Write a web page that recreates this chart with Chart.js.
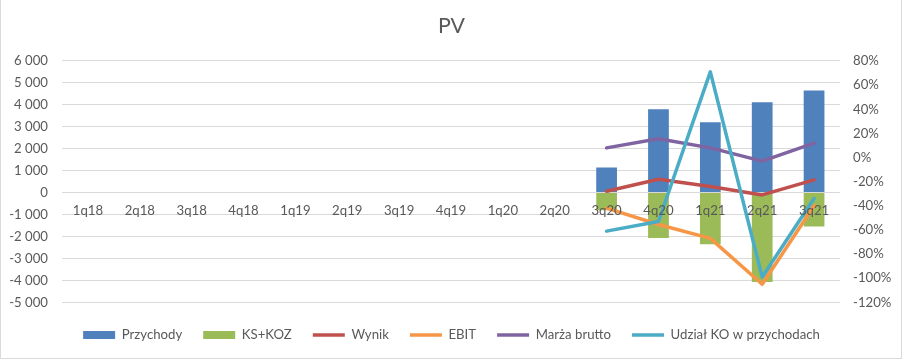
<!DOCTYPE html>
<html>
<head>
<meta charset="utf-8">
<script src="https://cdn.jsdelivr.net/npm/chart.js@4/dist/chart.umd.min.js"></script>
<style>
  html, body { margin: 0; padding: 0; background: #ffffff; }
  #wrap { width: 903px; height: 360px; position: relative; }
</style>
</head>
<body>
<div id="wrap"><canvas id="c" width="903" height="360"></canvas></div>
<script>
const categories = ['1q18','2q18','3q18','4q18','1q19','2q19','3q19','4q19','1q20','2q20','3q20','4q20','1q21','2q21','3q21'];
const przychody = [null,null,null,null,null,null,null,null,null,null,1150,3800,3210,4120,4660];
const ksKoz      = [null,null,null,null,null,null,null,null,null,null,-800,-2070,-2350,-4080,-1540];
const wynik      = [null,null,null,null,null,null,null,null,null,null,-28,-18,-24,-31,-18.5];
const ebit       = [null,null,null,null,null,null,null,null,null,null,-42,-55.5,-67,-105,-40];
const marza      = [null,null,null,null,null,null,null,null,null,null,8,15.5,8,-3,12];
const udzialKO   = [null,null,null,null,null,null,null,null,null,null,-61,-53,71,-99,-34];
const leftTicks  = { min: -5000, max: 6000, step: 1000 };
const rightTicks = { min: -120, max: 80, step: 20 };

const FONT = 'Lato, "Liberation Sans", sans-serif';
const TXT = '#595959';
const FS = 13.2;

function fmtThousands(v) {
  const s = Math.abs(v).toFixed(0).replace(/\B(?=(\d{3})+(?!\d))/g, ' ');
  return (v < 0 ? '-' : '') + s;
}

const framePlugin = {
  id: 'frame',
  afterLayout(chart) {
    // nudge the legend a few pixels lower, below the plot area
    if (chart.legend) { chart.legend.top += 5; chart.legend.bottom += 5; }
  },
  afterDraw(chart) {
    const ctx = chart.ctx;
    ctx.save();
    ctx.strokeStyle = '#d9d9d9';
    ctx.lineWidth = 1;
    ctx.beginPath();
    ctx.moveTo(0.5, 0); ctx.lineTo(0.5, 358.5);
    ctx.lineTo(901.5, 358.5); ctx.lineTo(901.5, 0);
    ctx.stroke();
    ctx.restore();
  }
};

const lineDs = (label, data, color, order) => ({
  type: 'line', label, data, yAxisID: 'y1', order,
  borderColor: color, backgroundColor: color, borderWidth: 3.5,
  pointRadius: 0, pointHoverRadius: 0, tension: 0,
  borderCapStyle: 'round', borderJoinStyle: 'round', pointStyle: 'line',
  spanGaps: false
});

new Chart(document.getElementById('c'), {
  type: 'bar',
  data: {
    labels: categories,
    datasets: [
      { type: 'bar', label: 'Przychody', data: przychody, yAxisID: 'y', order: 10,
        backgroundColor: '#4f81bd', borderWidth: 0, grouped: false,
        barPercentage: 0.4, categoryPercentage: 1, pointStyle: 'rect' },
      { type: 'bar', label: 'KS+KOZ', data: ksKoz, yAxisID: 'y', order: 10,
        backgroundColor: '#9bbb59', borderWidth: 0, grouped: false,
        barPercentage: 0.4, categoryPercentage: 1, pointStyle: 'rect' },
      lineDs('Wynik', wynik, '#c0504d', 4),
      lineDs('EBIT', ebit, '#f79646', 3),
      lineDs('Marża brutto', marza, '#8064a2', 2),
      lineDs('Udział KO w przychodach', udzialKO, '#4bacc6', 1)
    ]
  },
  options: {
    responsive: false,
    animation: false,
    layout: { padding: { left: 0, right: 0, top: 0, bottom: 13.5 } },
    plugins: {
      title: {
        display: true, text: 'PV', color: TXT,
        font: { family: FONT, size: 21.33, weight: 'normal' },
        padding: { top: 13, bottom: 22.4 }
      },
      legend: {
        position: 'bottom',
        labels: {
          color: TXT, font: { family: FONT, size: FS },
          usePointStyle: true, pointStyleWidth: 32, boxHeight: 8,
          padding: 21,
          sort: (a, b) => a.datasetIndex - b.datasetIndex
        }
      },
      tooltip: { enabled: false }
    },
    scales: {
      x: {
        position: { y: 0 },
        offset: true,
        grid: { display: false, drawTicks: false },
        border: { display: false },
        ticks: { z: 1, color: TXT, font: { family: FONT, size: FS }, padding: 10.5, maxRotation: 0, autoSkip: false }
      },
      y: {
        position: 'left',
        min: leftTicks.min, max: leftTicks.max,
        grid: { color: '#d9d9d9', drawTicks: false, lineWidth: 1 },
        border: { display: false },
        ticks: { stepSize: leftTicks.step, color: TXT, font: { family: FONT, size: FS }, padding: 14,
                 callback: (v) => fmtThousands(v) },
        afterFit: (s) => { s.width = 62; }
      },
      y1: {
        position: 'right',
        min: rightTicks.min, max: rightTicks.max,
        grid: { display: false, drawTicks: false },
        border: { display: false },
        ticks: { stepSize: rightTicks.step, color: TXT, font: { family: FONT, size: FS }, padding: 13,
                 callback: (v) => Math.round(v) + '%' },
        afterFit: (s) => { s.width = 63; }
      }
    }
  },
  plugins: [framePlugin]
});
</script>
</body>
</html>
